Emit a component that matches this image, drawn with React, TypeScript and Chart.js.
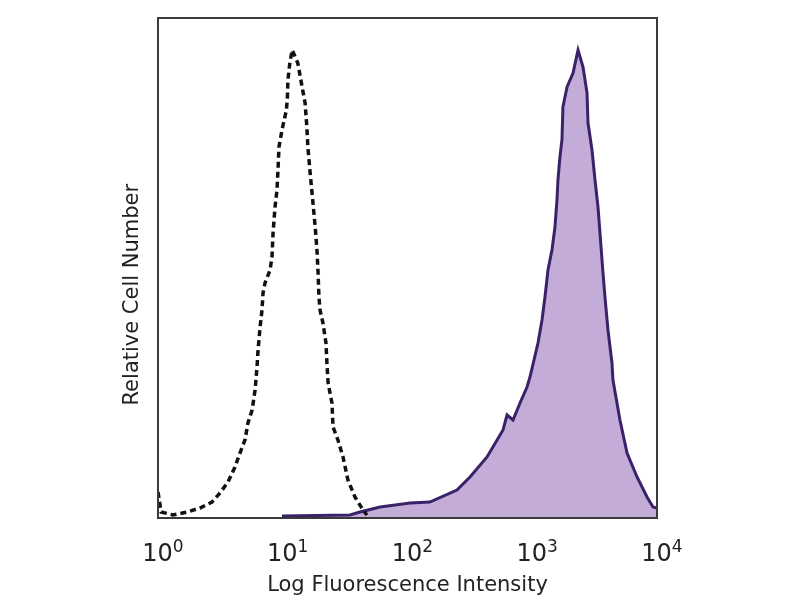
import React, { useEffect, useRef } from "react";
import { Chart, registerables } from "chart.js";

Chart.register(...registerables);

// Isotype control (dashed outline): fluorescence intensity vs. relative count
const controlIntensity = [
  1.0, 1.06, 1.32, 1.71, 2.17, 2.71, 3.14, 3.64, 4.14, 4.54, 4.98, 5.26, 5.68, 6.0,
  6.22, 6.34, 6.58, 6.82, 6.95, 7.21, 7.91, 8.2, 8.36, 8.67, 8.99, 9.16, 9.33, 9.86,
  10.7, 10.9, 11.0, 11.4, 11.9, 13.2, 14.3, 15.1, 15.6, 15.9, 16.5, 17.5, 18.2, 18.8,
  19.2, 19.5, 19.9, 21.0, 22.2, 22.6, 23.1, 24.8, 25.3, 27.7, 30.4, 33.3, 37.9, 44.0, 47.3,
];
const controlCount = [
  5.2, 1.2, 0.6, 1.2, 2.0, 3.2, 5.0, 7.2, 10.2, 13.0, 15.6, 19.0, 21.6, 25.6,
  30.2, 33.6, 38.2, 41.6, 45.0, 47.0, 49.6, 52.2, 57.0, 62.2, 65.6, 69.6, 74.2, 77.6,
  81.6, 84.2, 87.6, 91.0, 93.6, 91.0, 86.2, 83.0, 78.2, 74.2, 69.6, 62.8, 58.2, 53.6,
  49.0, 44.2, 41.6, 39.0, 35.0, 31.0, 27.0, 23.0, 18.2, 15.6, 12.2, 7.6, 4.2, 1.6, 0.6,
];

// Stained sample (filled)
const stainedIntensity = [
  9.86, 34.6, 41.6, 60.3, 105, 151, 249, 317, 434, 583, 628, 701, 798, 908, 959,
  1112, 1197, 1265, 1337, 1439, 1521, 1578, 1607, 1667, 1730, 1762, 1901, 2123, 2328,
  2553, 2748, 2799, 3013, 3184, 3365, 3491, 3690, 3828, 4046, 4355, 4436, 5047, 5754,
  6918, 8318, 9290, 10000,
];
const stainedCount = [
  0.4, 0.6, 1.2, 2.2, 3.0, 3.2, 5.6, 8.2, 12.2, 17.6, 20.6, 19.6, 23.0, 26.2, 28.2,
  35.0, 39.6, 44.2, 49.6, 53.6, 58.2, 63.6, 67.6, 72.2, 75.6, 82.2, 86.2, 89.0, 93.6,
  90.2, 85.0, 79.0, 73.6, 67.6, 62.2, 57.0, 49.0, 44.2, 37.6, 31.0, 27.6, 19.6, 13.0,
  8.2, 4.2, 2.2, 2.0,
];

const tickValues = [1, 10, 100, 1000, 10000];
const tickBase = "10";
const tickExponents = ["0", "1", "2", "3", "4"];

const xTitle = "Log Fluorescence Intensity";
const yTitle = "Relative Cell Number";

const FONT = "'DejaVu Sans', sans-serif";

const framePlugin = {
  id: "frame",
  afterDatasetsDraw(chart: any) {
    const { ctx, chartArea } = chart;
    ctx.save();
    ctx.strokeStyle = "#3a3a3a";
    ctx.lineWidth = 2;
    ctx.strokeRect(chartArea.left, chartArea.top, chartArea.right - chartArea.left, chartArea.bottom - chartArea.top);
    ctx.restore();
  },
};

// power-of-ten tick labels with real superscripts, placed by the x scale
const powerTicksPlugin = {
  id: "powerTicks",
  afterDraw(chart: any) {
    const { ctx } = chart;
    const xs = chart.scales.x;
    const baseY = xs.top + 43;
    ctx.save();
    ctx.fillStyle = "#222";
    ctx.textBaseline = "alphabetic";
    ctx.textAlign = "left";
    tickValues.forEach((v, i) => {
      const px = xs.getPixelForValue(v);
      ctx.font = `24px ${FONT}`;
      const wb = ctx.measureText(tickBase).width;
      ctx.font = `17px ${FONT}`;
      const we = ctx.measureText(tickExponents[i]).width;
      const start = px + 5 - (wb + we) / 2;
      ctx.font = `24px ${FONT}`;
      ctx.fillText(tickBase, start, baseY);
      ctx.font = `17px ${FONT}`;
      ctx.fillText(tickExponents[i], start + wb, baseY - 9);
    });
    ctx.restore();
  },
};

export default function App() {
  const ref = useRef<HTMLCanvasElement | null>(null);

  useEffect(() => {
    if (!ref.current) return;
    Chart.defaults.font.family = FONT;
    Chart.defaults.color = "#222";
    const chart = new Chart(ref.current, {
      type: "line",
      data: {
        datasets: [
          {
            label: "Control",
            data: controlIntensity.map((x, i) => ({ x, y: controlCount[i] })),
            borderColor: "#111",
            borderWidth: 3.5,
            borderDash: [6, 4],
            pointRadius: 0,
            fill: false,
            tension: 0,
          },
          {
            label: "Stained",
            data: stainedIntensity.map((x, i) => ({ x, y: stainedCount[i] })),
            borderColor: "#3a2268",
            backgroundColor: "#c4acd9",
            borderWidth: 3,
            pointRadius: 0,
            fill: "origin",
            tension: 0,
          },
        ],
      },
      options: {
        responsive: false,
        animation: false,
        layout: { padding: { left: 0, top: 18, right: 143, bottom: 0 } },
        plugins: { legend: { display: false }, tooltip: { enabled: false } },
        scales: {
          x: {
            type: "logarithmic",
            min: 1,
            max: 10000,
            grid: { display: false, drawTicks: false },
            border: { display: false },
            afterBuildTicks: (scale: any) => {
              scale.ticks = tickValues.map((v) => ({ value: v }));
            },
            afterFit: (scale: any) => {
              scale.height = 82;
            },
            ticks: { display: false },
            title: {
              display: true,
              text: xTitle,
              font: { size: 21 },
              color: "#222",
              padding: { top: 0, bottom: 2 },
            },
          },
          y: {
            min: 0,
            max: 100,
            grid: { display: false, drawTicks: false },
            border: { display: false },
            ticks: { display: false },
            afterFit: (scale: any) => {
              scale.width = 158;
            },
            title: {
              display: true,
              text: yTitle + "        ",
              font: { size: 21 },
              color: "#222",
              padding: { top: 120, bottom: 0 },
            },
          },
        },
      },
      plugins: [framePlugin, powerTicksPlugin],
    });
    return () => chart.destroy();
  }, []);

  return (
    <canvas
      ref={ref}
      width={800}
      height={600}
      style={{ position: "absolute", left: 0, top: 0, display: "block", background: "#fff" }}
    />
  );
}
